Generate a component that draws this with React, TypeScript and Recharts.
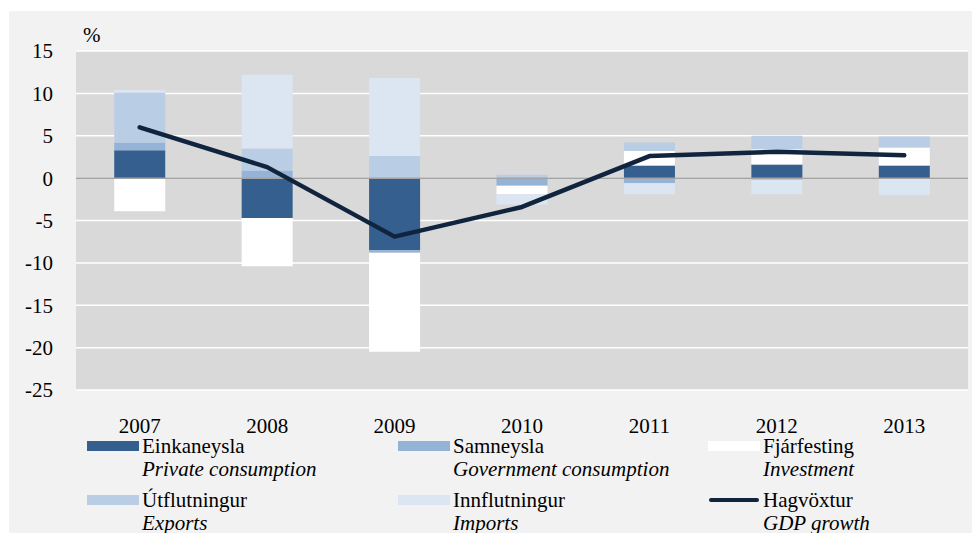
import { ComposedChart, Bar, Line, XAxis, YAxis, CartesianGrid, ReferenceLine } from 'recharts'

const years = ['2007', '2008', '2009', '2010', '2011', '2012', '2013']
const privateConsumption = [3.3, -4.7, -8.5, 0, 1.5, 1.6, 1.5]
const governmentConsumption = [0.9, 0.9, -0.3, -0.9, -0.6, -0.2, 0]
const investment = [-3.9, -5.7, -11.7, -1.0, 1.7, 1.8, 2.1]
const exportsValues = [5.9, 2.6, 2.6, 0.4, 1.0, 1.6, 1.3]
const importsValues = [0.3, 8.7, 9.2, -1.2, -1.3, -1.7, -2.0]
const gdpGrowth = [6.0, 1.3, -6.9, -3.4, 2.6, 3.1, 2.7]
const yTicks = [-25, -20, -15, -10, -5, 0, 5, 10, 15]

const data = years.map((year, i) => ({
  year,
  privateConsumption: privateConsumption[i],
  governmentConsumption: governmentConsumption[i],
  investment: investment[i],
  exports: exportsValues[i],
  imports: importsValues[i],
  gdp: gdpGrowth[i],
}))

const FONT = '"Liberation Serif", "Times New Roman", serif'

const legendItems = [
  { is: 'Einkaneysla', en: 'Private consumption', color: '#355f8f', x: 78, y: 424 },
  { is: 'Samneysla', en: 'Government consumption', color: '#95b3d7', x: 389, y: 424 },
  { is: 'Fjárfesting', en: 'Investment', color: '#ffffff', x: 699, y: 424 },
  { is: 'Útflutningur', en: 'Exports', color: '#b9cde5', x: 78, y: 478 },
  { is: 'Innflutningur', en: 'Imports', color: '#dce6f2', x: 389, y: 478 },
  { is: 'Hagvöxtur', en: 'GDP growth', color: '#10243e', x: 699, y: 478, line: true },
]

function ChartLegend() {
  return (
    <>
      {legendItems.map((item) => (
        <div key={item.is} style={{ position: 'absolute', left: item.x, top: item.y }}>
          {item.line ? (
            <div style={{ position: 'absolute', left: 1, top: 9, width: 50, height: 4, borderRadius: 2, background: item.color }} />
          ) : (
            <div style={{ position: 'absolute', left: 0, top: 6, width: 52, height: 10, background: item.color }} />
          )}
          <div style={{ position: 'absolute', left: 55, top: 0, whiteSpace: 'nowrap', fontSize: 21, lineHeight: '23px', color: '#000' }}>
            <div>{item.is}</div>
            <div style={{ fontStyle: 'italic' }}>{item.en}</div>
          </div>
        </div>
      ))}
    </>
  )
}

export default function App() {
  return (
    <div style={{ position: 'relative', width: 972, height: 525, background: '#fff', fontFamily: FONT }}>
      <div style={{ position: 'absolute', left: 1, top: 3, width: 971, height: 522, background: '#f2f2f2', overflow: 'hidden' }}>
        <ComposedChart
          width={971}
          height={522}
          data={data}
          stackOffset="sign"
          barCategoryGap="30%"
          margin={{ top: 40, right: 12, bottom: 113, left: 0 }}
        >
          <CartesianGrid vertical={false} stroke="#ffffff" strokeWidth={1.5} fill="#d9d9d9" />
          <XAxis
            dataKey="year"
            axisLine={false}
            tickLine={false}
            tickSize={0}
            tickMargin={28}
            height={30}
            tick={{ fill: '#000', fontSize: 21, fontFamily: FONT }}
          />
          <YAxis
            domain={[-25, 15]}
            ticks={yTicks}
            axisLine={false}
            tickLine={false}
            tickSize={0}
            tickMargin={23}
            width={67}
            interval={0}
            tick={{ fill: '#000', fontSize: 21, fontFamily: FONT }}
          />
          <Bar dataKey="privateConsumption" stackId="a" fill="#355f8f" isAnimationActive={false} />
          <Bar dataKey="governmentConsumption" stackId="a" fill="#95b3d7" isAnimationActive={false} />
          <Bar dataKey="investment" stackId="a" fill="#ffffff" isAnimationActive={false} />
          <Bar dataKey="exports" stackId="a" fill="#b9cde5" isAnimationActive={false} />
          <Bar dataKey="imports" stackId="a" fill="#dce6f2" isAnimationActive={false} />
          <ReferenceLine y={0} stroke="#a3a3a3" strokeWidth={1.5} />
          <Line
            dataKey="gdp"
            type="linear"
            stroke="#10243e"
            strokeWidth={4.5}
            strokeLinecap="round"
            strokeLinejoin="round"
            dot={false}
            activeDot={false}
            isAnimationActive={false}
          />
        </ComposedChart>
        <div style={{ position: 'absolute', left: 74, top: 12, fontSize: 21, lineHeight: '24px', color: '#000' }}>%</div>
        <ChartLegend />
      </div>
    </div>
  )
}
